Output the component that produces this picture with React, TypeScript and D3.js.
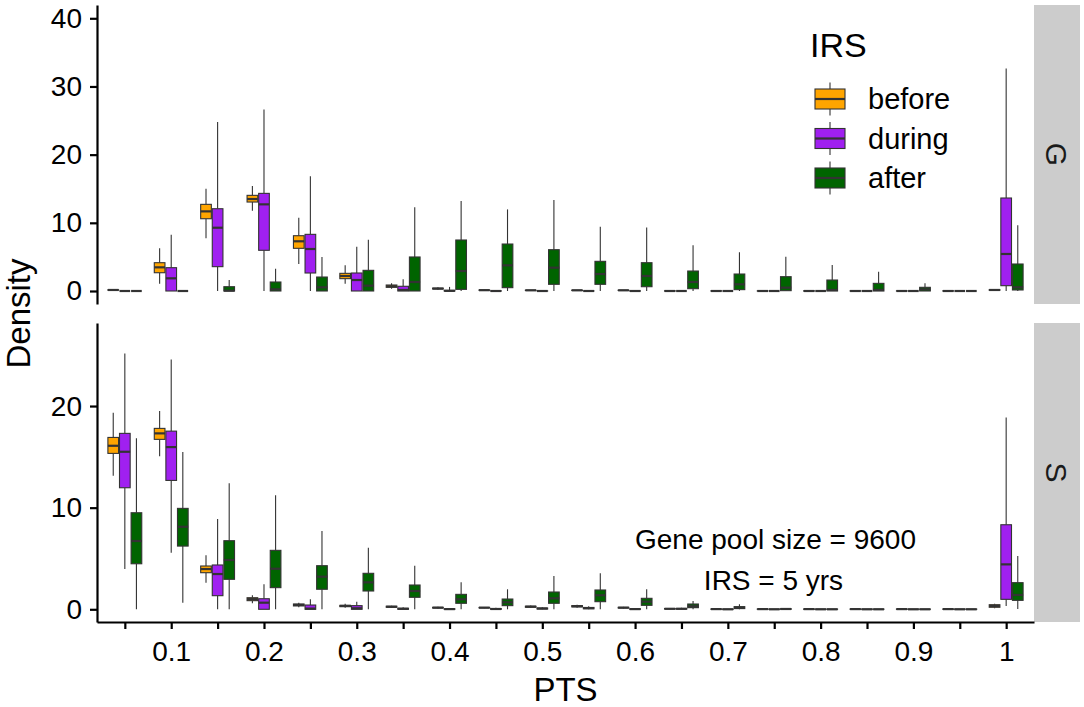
import { useRef, useEffect } from 'react'
import * as d3 from 'd3'

// PTS bins (x categories)
const pts = [0.05, 0.1, 0.15, 0.2, 0.25, 0.3, 0.35, 0.4, 0.45, 0.5, 0.55, 0.6, 0.65, 0.7, 0.75, 0.8, 0.85, 0.9, 0.95, 1.0]
const xTickLabels = ['', '0.1', '', '0.2', '', '0.3', '', '0.4', '', '0.5', '', '0.6', '', '0.7', '', '0.8', '', '0.9', '', '1']

const groups = ['before', 'during', 'after']
const groupColors = ['#FFA500', '#A020F0', '#006400']

// five-number summaries per bin: [lower whisker, q1, median, q3, upper whisker]
const gBefore = [
  [0.1, 0.12, 0.15, 0.18, 0.2], [1.07, 2.68, 3.47, 4.15, 6.26], [7.72, 10.6, 11.68, 12.71, 15.0],
  [11.77, 13.05, 13.49, 14.03, 15.4], [3.96, 6.26, 7.29, 8.11, 10.75], [1.07, 1.81, 2.2, 2.59, 3.77],
  [0.34, 0.54, 0.7, 0.88, 1.12], [0.2, 0.3, 0.35, 0.42, 0.55], [0.05, 0.1, 0.12, 0.15, 0.2],
  [0.05, 0.08, 0.1, 0.12, 0.15], [0.05, 0.08, 0.1, 0.12, 0.15], [0.05, 0.08, 0.1, 0.12, 0.15],
  [0, 0, 0, 0.02, 0.04], [0, 0, 0, 0.02, 0.04], [0, 0, 0, 0.02, 0.04], [0, 0, 0, 0.02, 0.04],
  [0, 0, 0, 0.02, 0.04], [0, 0, 0, 0.02, 0.04], [0, 0, 0, 0.02, 0.04], [0.05, 0.1, 0.15, 0.2, 0.25],
]
const gDuring = [
  [0, 0, 0, 0, 0], [0, 0, 1.86, 3.42, 8.26], [0, 3.57, 9.28, 12.07, 24.78], [0, 5.97, 12.71, 14.32, 26.64],
  [0, 2.64, 6.16, 8.31, 16.82], [0, 0, 1.61, 2.64, 6.5], [0, 0, 0.15, 0.69, 1.71], [0, 0, 0.02, 0.1, 0.6],
  [0, 0, 0, 0.02, 0.03], [0, 0, 0, 0.01, 0.02], [0, 0, 0, 0.01, 0.02], [0, 0, 0, 0.01, 0.02],
  [0, 0, 0, 0, 0], [0, 0, 0, 0, 0], [0, 0, 0, 0, 0], [0, 0, 0, 0, 0], [0, 0, 0, 0, 0], [0, 0, 0, 0, 0],
  [0, 0, 0, 0, 0], [0, 0.78, 5.43, 13.64, 32.65],
]
const gAfter = [
  [0, 0, 0, 0, 0], [0, 0, 0, 0, 0], [0, 0, 0.05, 0.63, 1.61], [0, 0, 0.24, 1.32, 3.27],
  [0, 0, 0.54, 2.05, 4.99], [0, 0, 0.78, 3.03, 7.52], [0, 0, 1.32, 4.99, 12.27], [0, 0.24, 2.93, 7.48, 13.2],
  [0, 0.49, 3.76, 6.89, 11.97], [0, 0.98, 3.42, 6.06, 13.34], [0, 0.98, 2.49, 4.35, 9.43], [0, 0.63, 2.2, 4.15, 9.33],
  [0, 0.34, 1.32, 2.93, 6.7], [0, 0.2, 0.98, 2.49, 5.67], [0, 0.05, 0.49, 2.1, 5.03], [0, 0, 0.15, 1.61, 3.81],
  [0, 0, 0.15, 1.12, 2.83], [0, 0, 0.24, 0.54, 1.12], [0, 0, 0, 0, 0], [0, 0.15, 0.54, 3.96, 9.63],
]

const sBefore = [
  [13.14, 15.34, 16.09, 16.91, 19.33], [15.07, 16.72, 17.31, 17.8, 19.5], [2.62, 3.6, 3.96, 4.26, 5.31],
  [0.59, 0.85, 1.0, 1.14, 1.38], [0.2, 0.33, 0.43, 0.52, 0.65], [0.16, 0.26, 0.33, 0.39, 0.55],
  [0.13, 0.2, 0.25, 0.3, 0.36], [0.08, 0.13, 0.16, 0.19, 0.24], [0.1, 0.14, 0.16, 0.18, 0.22],
  [0.12, 0.2, 0.26, 0.3, 0.38], [0.14, 0.24, 0.3, 0.36, 0.45], [0.08, 0.13, 0.16, 0.19, 0.24],
  [0, 0.03, 0.05, 0.07, 0.1], [0, 0, 0.02, 0.03, 0.05], [0, 0, 0.02, 0.03, 0.05], [0, 0, 0.02, 0.03, 0.05],
  [0, 0, 0.02, 0.03, 0.05], [0, 0, 0.02, 0.03, 0.05], [0, 0, 0.02, 0.03, 0.05], [0.1, 0.2, 0.33, 0.45, 0.55],
]
const sDuring = [
  [3.96, 11.96, 15.5, 17.31, 25.17], [5.57, 12.68, 15.96, 17.53, 24.58], [0, 1.34, 3.47, 4.36, 8.88],
  [0, 0, 0.65, 1.04, 2.46], [0, 0, 0.07, 0.42, 0.98], [0, 0, 0.1, 0.36, 0.75], [0, 0, 0.05, 0.1, 0.2],
  [0, 0, 0.02, 0.05, 0.1], [0, 0, 0.03, 0.07, 0.15], [0, 0.03, 0.08, 0.12, 0.2], [0, 0.05, 0.12, 0.18, 0.3],
  [0, 0, 0.02, 0.05, 0.1], [0, 0.02, 0.05, 0.08, 0.15], [0, 0, 0, 0.02, 0.04], [0, 0, 0, 0.02, 0.04],
  [0, 0, 0, 0.02, 0.04], [0, 0, 0, 0.02, 0.04], [0, 0, 0, 0.02, 0.04], [0, 0, 0, 0.02, 0.04],
  [0.33, 0.98, 4.42, 8.32, 18.88],
]
const sAfter = [
  [0, 4.48, 6.72, 9.5, 16.84], [0.65, 6.22, 8.12, 9.93, 15.47], [0, 2.95, 4.85, 6.75, 12.39],
  [0, 2.13, 3.99, 5.8, 11.21], [0, 1.97, 3.21, 4.29, 7.7], [0, 1.8, 2.65, 3.54, 6.06], [0, 1.18, 1.8, 2.39, 4.29],
  [0, 0.59, 0.98, 1.47, 2.65], [0, 0.36, 0.69, 1.01, 1.97], [0, 0.59, 1.08, 1.7, 3.28], [0, 0.75, 1.38, 1.9, 3.54],
  [0, 0.39, 0.75, 1.08, 1.97], [0, 0.16, 0.3, 0.52, 0.82], [0, 0.07, 0.15, 0.26, 0.49], [0, 0, 0.03, 0.06, 0.12],
  [0, 0, 0, 0.02, 0.04], [0, 0, 0, 0.02, 0.04], [0, 0, 0, 0.02, 0.04], [0, 0, 0, 0.02, 0.04],
  [0.03, 0.88, 1.41, 2.62, 5.24],
]

const gTicks = [0, 10, 20, 30, 40]
const sTicks = [0, 10, 20]

const FONT = '"Liberation Sans", Arial, Helvetica, sans-serif'
const W = 1084
const H = 707

const App = () => {
  const ref = useRef<SVGSVGElement>(null)

  useEffect(() => {
    if (!ref.current) return
    const svg = d3.select(ref.current)
    svg.selectAll('*').remove()

    const left = 97
    const right = 1034
    const x = d3.scaleLinear().domain([0.02, 1.03]).range([left, right])
    const step = x(0.1) - x(0.05)
    const boxW = 0.23 * step

    const facets = [
      { label: 'G', series: [gBefore, gDuring, gAfter], yDomain: [-1.907, 41.95], ticks: gTicks, top: 5, bottom: 304 },
      { label: 'S', series: [sBefore, sDuring, sAfter], yDomain: [-1.25, 28.17], ticks: sTicks, top: 323, bottom: 622 },
    ]

    facets.forEach(f => {
      const y = d3.scaleLinear().domain(f.yDomain).range([f.bottom, f.top])

      // strip on the right
      svg.append('rect')
        .attr('x', right)
        .attr('y', f.top)
        .attr('width', 46)
        .attr('height', f.bottom - f.top)
        .attr('fill', '#cccccc')
      svg.append('text')
        .attr('transform', `translate(1057,${(f.top + f.bottom) / 2}) rotate(90)`)
        .attr('text-anchor', 'middle')
        .attr('dy', '0.36em')
        .attr('font-size', 30)
        .attr('fill', '#1a1a1a')
        .text(f.label)

      const bg = svg.append('g')
      f.series.forEach((s, si) => {
        const off = (si - 1) * 0.25 * step
        s.forEach((d, i) => {
          const cx = x(pts[i]) + off
          const [lo, q1, md, q3, hi] = d
          bg.append('line')
            .attr('x1', cx).attr('x2', cx)
            .attr('y1', y(hi)).attr('y2', y(q3))
            .attr('stroke', '#333333').attr('stroke-width', 1.1)
          bg.append('line')
            .attr('x1', cx).attr('x2', cx)
            .attr('y1', y(q1)).attr('y2', y(lo))
            .attr('stroke', '#333333').attr('stroke-width', 1.1)
          bg.append('rect')
            .attr('x', cx - boxW / 2)
            .attr('y', y(q3))
            .attr('width', boxW)
            .attr('height', Math.max(0, y(q1) - y(q3)))
            .attr('fill', groupColors[si])
            .attr('stroke', '#333333')
            .attr('stroke-width', 1.1)
          bg.append('line')
            .attr('x1', cx - boxW / 2).attr('x2', cx + boxW / 2)
            .attr('y1', y(md)).attr('y2', y(md))
            .attr('stroke', '#333333').attr('stroke-width', 2.2)
        })
      })

      const ya = svg.append('g')
        .attr('transform', `translate(${left},0)`)
        .call(d3.axisLeft(y).tickValues(f.ticks).tickSize(7).tickSizeOuter(0).tickPadding(8))
      ya.attr('font-family', FONT).attr('font-size', 28)
      ya.selectAll('path, line').attr('stroke', '#000').attr('stroke-width', 2.2)
      ya.selectAll('text').attr('fill', '#000')
    })

    // x axis under the lower panel
    const xa = svg.append('g')
      .attr('transform', 'translate(0,622)')
      .call(
        d3.axisBottom(x)
          .tickValues(pts)
          .tickFormat((_, i) => xTickLabels[i])
          .tickSize(7)
          .tickSizeOuter(0)
          .tickPadding(12)
      )
    xa.attr('font-family', FONT).attr('font-size', 28)
    xa.selectAll('path, line').attr('stroke', '#000').attr('stroke-width', 2.2)
    xa.selectAll('text').attr('fill', '#000')

    // axis titles
    svg.append('text')
      .attr('x', (left + right) / 2)
      .attr('y', 701)
      .attr('text-anchor', 'middle')
      .attr('font-size', 33)
      .text('PTS')
    svg.append('text')
      .attr('transform', 'translate(30,313.5) rotate(-90)')
      .attr('text-anchor', 'middle')
      .attr('font-size', 33)
      .text('Density')

    // legend
    svg.append('text')
      .attr('x', 810)
      .attr('y', 57)
      .attr('font-size', 34)
      .text('IRS')
    const legendY = d3.scalePoint<string>().domain(groups).range([99, 178])
    groups.forEach((gname, gi) => {
      const cy = legendY(gname) || 0
      const lg = svg.append('g')
      lg.append('line')
        .attr('x1', 830).attr('x2', 830)
        .attr('y1', cy - 16.5).attr('y2', cy + 16.5)
        .attr('stroke', '#333333').attr('stroke-width', 1.1)
      lg.append('rect')
        .attr('x', 815).attr('y', cy - 10)
        .attr('width', 30).attr('height', 20)
        .attr('fill', groupColors[gi])
        .attr('stroke', '#333333').attr('stroke-width', 1.1)
      lg.append('line')
        .attr('x1', 815).attr('x2', 845)
        .attr('y1', cy).attr('y2', cy)
        .attr('stroke', '#333333').attr('stroke-width', 2.2)
      lg.append('text')
        .attr('x', 868)
        .attr('y', cy + 10)
        .attr('font-size', 29)
        .text(gname)
    })

    // annotation
    svg.append('text')
      .attr('x', 775.5)
      .attr('y', 548.5)
      .attr('text-anchor', 'middle')
      .attr('font-size', 28)
      .text('Gene pool size = 9600')
    svg.append('text')
      .attr('x', 773.5)
      .attr('y', 589.5)
      .attr('text-anchor', 'middle')
      .attr('font-size', 28)
      .text('IRS = 5 yrs')
  }, [])

  return (
    <svg
      ref={ref}
      width={W}
      height={H}
      style={{ position: 'absolute', left: 0, top: 0, background: '#fff', fontFamily: FONT }}
    />
  )
}

export default App
